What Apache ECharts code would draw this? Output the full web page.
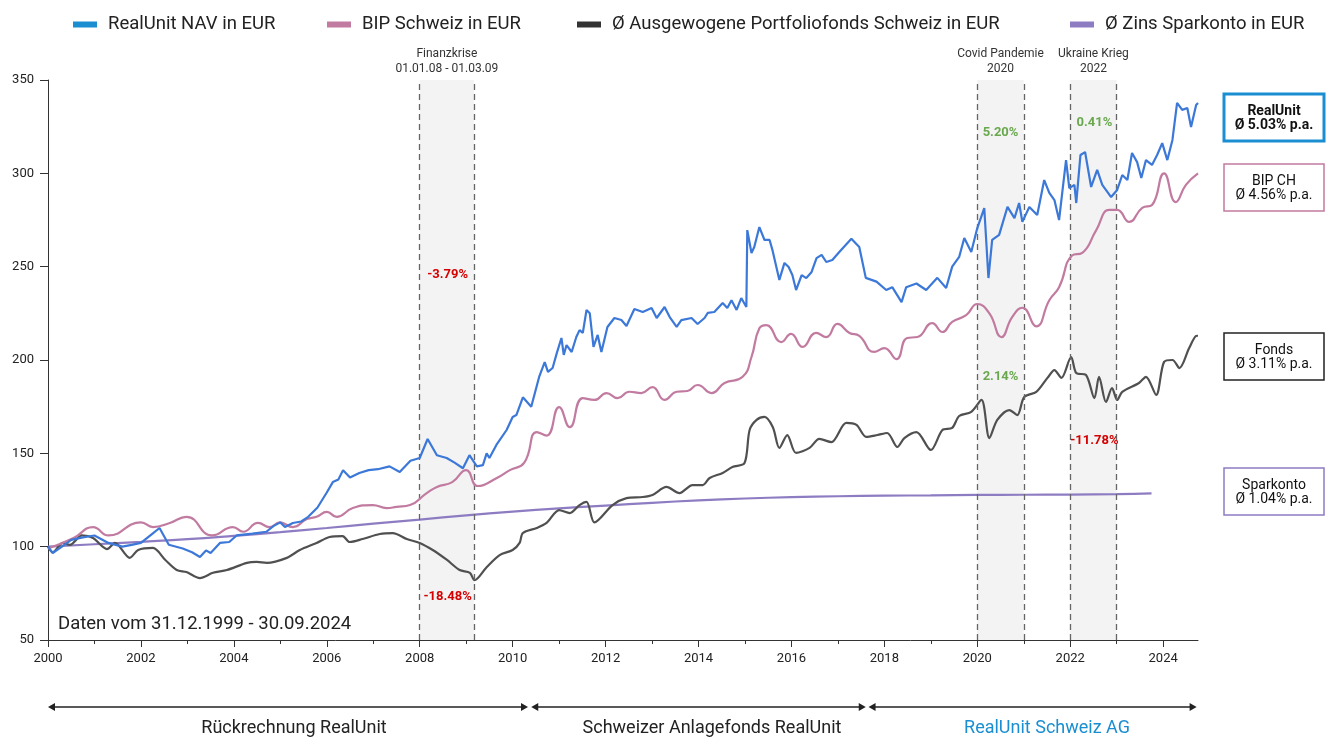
<!DOCTYPE html>
<html>
<head>
<meta charset="utf-8">
<script src="https://cdn.jsdelivr.net/npm/echarts@6/dist/echarts.min.js"></script>
<style>
  html, body { margin: 0; padding: 0; background: #fff; }
  #chart { width: 1333px; height: 738px; }
</style>
</head>
<body>
<div id="chart"></div>
<script>
// RealUnit NAV (index, 31.12.1999 = 100)
const ruYears = [2000.0,2000.1,2000.3,2000.5,2000.75,2001.0,2001.15,2001.3,2001.6,2001.8,2002.0,2002.25,2002.4,2002.6,2002.9,2003.1,2003.27,2003.4,2003.5,2003.7,2003.9,2004.06,2004.4,2004.7,2004.85,2005.0,2005.1,2005.27,2005.45,2005.6,2005.8,2006.0,2006.13,2006.25,2006.35,2006.5,2006.7,2006.9,2007.1,2007.35,2007.57,2007.8,2008.0,2008.17,2008.37,2008.58,2008.75,2008.93,2009.07,2009.23,2009.36,2009.44,2009.5,2009.65,2009.87,2010.0,2010.08,2010.22,2010.4,
  2010.57,2010.69,2010.76,2010.86,2010.95,2011.05,2011.1,2011.16,2011.27,2011.37,2011.44,2011.51,2011.59,2011.66,2011.7,2011.74,2011.83,2011.91,2012.04,2012.19,2012.34,2012.45,2012.62,2012.8,2012.99,2013.1,2013.27,2013.38,2013.53,2013.63,2013.85,2013.98,2014.13,2014.2,2014.34,2014.52,2014.62,2014.71,2014.82,2014.92,2015.03,2015.05,2015.14,2015.2,2015.31,2015.42,2015.53,2015.59,2015.74,2015.85,2015.94,2016.02,2016.1,2016.22,2016.32,2016.43,2016.54,2016.65,2016.75,2016.88,2017.03,
  2017.29,2017.46,2017.6,2017.83,2018.04,2018.17,2018.37,2018.47,2018.69,2018.9,2019.14,2019.33,2019.46,
  2019.61,2019.72,2019.87,2020.0,2020.15,2020.24,2020.32,2020.47,2020.65,2020.8,2020.9,2020.97,2021.12,2021.29,2021.44,2021.55,2021.66,2021.76,2021.91,2021.98,2022.09,2022.13,2022.22,2022.32,2022.45,2022.58,2022.69,2022.88,2023.01,2023.12,2023.23,2023.33,2023.44,2023.53,2023.63,2023.76,2023.87,2023.98,2024.09,2024.2,2024.3,2024.41,2024.52,2024.6,2024.71,2024.75];
const ruVals = [100,96.6,100,103.6,105,106,104,102,100,101,102,107,110,101,99,97,94.5,98,96.6,102,102.5,106,107,108,111,113,110.5,112.7,113.5,116,121,129,134.6,136,141,137,139.5,141,141.5,143,140,146,147.5,157.7,149,147.5,145,142,149,143,143.7,150,147.5,154.5,162.5,169.5,170.5,180,175,
  190.9,198.9,193.6,195.7,203.7,211.8,202.7,208,204.3,212.3,216,214.5,226.8,225,216,207,213.4,204.3,217.7,222.5,221.4,218.2,227.3,225.7,227.8,222.5,228.4,223,217.7,221.4,222.5,219.3,222.5,225.2,225.7,230.5,227.8,232,226.8,233.2,228.4,269.6,257.3,260.5,271.2,264.3,264.3,259,242.9,252,249.8,245.5,237.5,245.5,243.9,247,254.6,256.3,252.5,253.6,257.9,
  265,260.5,244,242,237.5,239,231,239,241,237.5,244,238.6,250,
  255.2,265.4,257.9,270.7,281.4,243.9,264.3,267,282,276,284.1,274,282,277.7,296.4,289.5,285.7,275,307.1,292.1,293.8,284.1,309.8,311.4,292.7,301.8,293.8,287.3,291.1,299.1,296.4,310.9,306,297.5,307.1,304.5,309.8,316.2,307.1,317.9,337.7,334,335,324.8,336.6,337.7];

// BIP Schweiz in EUR
const bipYears = [2000.0,2000.55,2000.97,2001.3,2002.0,2002.26,2002.62,2002.98,2003.53,2003.98,2004.2,2004.52,2004.77,2004.99,2005.27,2005.57,2005.78,2006.0,2006.21,2006.56,2006.99,2007.29,2007.5,2007.79,2008.15,2008.37,2008.7,2009.0,2009.25,2009.66,2009.94,2010.25,2010.52,2010.73,2011.0,2011.23,2011.51,2011.76,2012.02,2012.26,2012.51,2012.77,2013.01,2013.27,2013.53,2013.76,2013.98,2014.28,2014.56,2014.95,2015.14,2015.31,2015.46,2015.78,2015.99,2016.24,2016.53,2016.75,2016.99,2017.25,2017.46,2017.78,2018.0,2018.26,2018.49,2018.71,2019.03,2019.25,2019.46,2019.76,2020.0,2020.26,2020.52,2020.75,2020.97,2021.27,2021.55,2021.76,2022.04,2022.26,2022.56,2022.84,2023.01,2023.27,2023.55,2023.76,2024.02,2024.27,2024.49,2024.75];
const bipVals = [99,104.6,110.5,106,113,110.5,112.7,116,106,110.5,108,112.7,110.5,113,110.5,114.8,116,118.6,116,120.7,122.3,120.7,121.3,122.3,128.7,132,134.6,141,132.5,136.8,141,145,161.4,159.5,174.8,164,179.6,178.6,182.3,179.6,183,182.3,185.5,178.6,183,183.4,186.6,182.3,187.7,191,201.6,217,218.7,209.6,214,207,214.5,212.3,219.3,214.5,212.9,204.3,206.4,200.5,211.8,212.3,219.8,215,220.4,224,230,225,212.3,223,228,218,232,239,256,257.4,269.6,280.4,280.4,274,281.5,283,300,284.6,293.8,300];

// Ø Ausgewogene Portfoliofonds Schweiz
const fdYears = [2000.0,2000.1,2000.32,2000.47,2000.73,2000.97,2001.27,2001.44,2001.76,2001.94,2002.26,2002.52,2002.77,2002.98,2003.27,2003.55,2003.85,2004.28,2004.49,2004.71,2005.14,2005.42,2005.78,2006.06,2006.34,2006.49,2006.77,2007.14,2007.42,2007.72,2008.0,2008.28,2008.58,2008.86,2009.08,2009.18,2009.44,2009.72,2010.0,2010.15,2010.22,2010.52,2010.73,2011.0,2011.23,2011.44,2011.59,2011.76,2012.15,2012.45,2012.8,2013.01,2013.31,2013.59,2013.87,2014.09,2014.24,2014.52,2014.73,2014.99,2015.1,2015.25,2015.42,2015.6,2015.74,2015.91,2016.1,2016.39,2016.6,2016.86,2017.18,2017.4,2017.61,2017.85,2018.06,2018.28,2018.43,2018.69,2019.0,2019.25,2019.46,2019.61,2019.87,2020.09,2020.26,2020.43,2020.69,2020.86,2021.01,2021.27,2021.51,2021.66,2021.81,2022.02,2022.13,2022.34,2022.52,2022.62,2022.77,2022.9,2023.01,2023.12,2023.48,2023.63,2023.85,2024.02,2024.2,2024.35,2024.56,2024.71,2024.75];
const fdVals = [100,97,102,101,106,104.6,98.7,102,94,98.2,99.3,93,87.5,86.4,83.2,86,87.5,91.3,91.8,91.3,94,98.2,102,105.2,105.7,102.5,104.1,106.8,107.3,104.1,102,98.2,93,87.5,86,82,89,95.5,98.2,102,107.3,110,112.7,119.6,118,122.3,124,113,122.3,126,126.6,127.7,132,128.7,133,133,136.8,139.5,142.7,144.8,162.5,167.9,169.5,164,152.9,159.8,150.2,152.9,157.7,156,166.3,165.2,158.8,159.8,160.9,153.4,158.2,161.4,151.8,162.5,163.6,170,172.2,178.6,158.2,167.9,173.2,170.5,180.2,182.9,190.4,194.6,190.4,201.6,193,192,179.6,191,177.5,185,178.6,182.9,187.7,191,181.3,199,200,195.7,206.4,212.9,213];

// Ø Zins Sparkonto
const spYears = [2000,2001,2002,2003,2004,2005,2006,2007,2008,2009,2010,2011,2012,2013,2014,2015,2016,2017,2018,2019,2020,2021,2022,2023,2023.75];
const spVals = [100,101.3,102.6,104,105.8,107.8,110,112.3,114.5,116.8,118.8,120.5,122,123.5,124.8,125.8,126.5,127,127.3,127.5,127.7,127.8,127.9,128.1,128.5];

// crisis periods
const crisisStart = [2008, 2020, 2022];
const crisisEnd = [2009.17, 2021, 2023];
const crisisText = ['Finanzkrise\n01.01.08 - 01.03.09', 'Covid Pandemie\n2020', 'Ukraine Krieg\n2022'];

// percentage notes: year, value, text
const noteYears = [2008.6, 2008.6, 2020.5, 2022.52, 2020.5, 2022.52];
const noteVals = [245.5, 73, 322, 327, 191, 157];
const noteTexts = ['-3.79%', '-18.48%', '5.20%', '0.41%', '2.14%', '-11.78%'];

const majorYears = [2000,2002,2004,2006,2008,2010,2012,2014,2016,2018,2020,2022,2024];
const minorYears = [2001,2003,2005,2007,2009,2011,2013,2015,2017,2019,2021,2023];

const names = ['RealUnit NAV in EUR', 'BIP Schweiz in EUR', 'Ø Ausgewogene Portfoliofonds Schweiz in EUR', 'Ø Zins Sparkonto in EUR'];

const pairs = (xs, ys) => xs.map((x, i) => [x, ys[i]]);
const FONT = 'Roboto, "Noto Sans", sans-serif';

const chart = echarts.init(document.getElementById('chart'));

const legendPos = [68, 322, 572, 1065];
const legendColors = ['#1a8ed1', '#c27ba0', '#333333', '#8e7cc3'];

let option = {
  backgroundColor: '#fff',
  animation: false,
  textStyle: { fontFamily: FONT },
  grid: { left: 48, right: 135, top: 80, bottom: 98 },
  legend: names.map((n, i) => ({
    data: [{ name: n, itemStyle: { color: legendColors[i] } }],
    left: legendPos[i], top: 10,
    icon: 'rect', itemWidth: 24, itemHeight: 6,
    textStyle: { fontSize: 18.5, color: '#222', padding: [0, 0, 0, 6], fontFamily: FONT },
    selectedMode: false
  })),
  xAxis: [{
    type: 'value', min: 2000, max: 2024.75,
    axisLine: { lineStyle: { color: '#333', width: 1 } },
    axisTick: { customValues: majorYears, length: 7, lineStyle: { color: '#333' } },
    axisLabel: { customValues: majorYears, fontSize: 13, color: '#222', margin: 12, formatter: v => String(v) },
    splitLine: { show: false }
  }, {
    type: 'value', min: 2000, max: 2024.75, position: 'bottom',
    axisLine: { show: false },
    axisTick: { customValues: minorYears, length: 4, lineStyle: { color: '#333' } },
    axisLabel: { show: false },
    splitLine: { show: false }
  }],
  yAxis: {
    type: 'value', min: 50, max: 350, interval: 50,
    axisLine: { show: true, lineStyle: { color: '#333' } },
    axisTick: { show: true, length: 8, lineStyle: { color: '#333' } },
    axisLabel: { fontSize: 13, color: '#222', margin: 14 },
    splitLine: { show: false }
  },
  series: [
    {
      name: names[3], type: 'line', data: pairs(spYears, spVals),
      showSymbol: false, smooth: 0.5, z: 3,
      lineStyle: { color: '#8e7cc3', width: 2.2 }, itemStyle: { color: '#8e7cc3' },
      markArea: {
        silent: true,
        itemStyle: { color: '#f3f3f3' },
        label: { show: true, position: 'top', distance: 4, color: '#333', fontSize: 12, lineHeight: 15, fontFamily: FONT },
        data: crisisStart.map((s, i) => [
          { name: crisisText[i], coord: [s, 350] },
          { coord: [crisisEnd[i], 50] }
        ])
      },
      markLine: {
        silent: true, symbol: 'none',
        lineStyle: { color: '#666', type: [6, 4], width: 1.3 },
        label: { show: false },
        data: crisisStart.concat(crisisEnd).map(x => ({ xAxis: x }))
      },
      markPoint: {
        silent: true, symbol: 'circle', symbolSize: 0,
        label: { show: true, position: 'inside', formatter: '{b}', fontSize: 13, fontWeight: 'bold', fontFamily: FONT },
        data: noteTexts.map((t, i) => ({
          name: t, coord: [noteYears[i], noteVals[i]],
          label: { color: t.charAt(0) === '-' ? '#d50000' : '#6aa84f' }
        }))
      }
    },
    {
      name: names[2], type: 'line', data: pairs(fdYears, fdVals),
      showSymbol: false, smooth: 0.3, z: 4,
      lineStyle: { color: '#505050', width: 2.2 }, itemStyle: { color: '#333' }
    },
    {
      name: names[1], type: 'line', data: pairs(bipYears, bipVals),
      showSymbol: false, smooth: 0.5, z: 5,
      lineStyle: { color: '#c27ba0', width: 2.2 }, itemStyle: { color: '#c27ba0' }
    },
    {
      name: names[0], type: 'line', data: pairs(ruYears, ruVals),
      showSymbol: false, z: 6,
      lineStyle: { color: '#3c78d8', width: 2.2 }, itemStyle: { color: '#3c78d8' }
    }
  ]
};
chart.setOption(option);

// annotations outside the plot
const px = v => chart.convertToPixel({ xAxisIndex: 0 }, v);
const arrowStart = [2000, 2010.4, 2017.66];
const arrowEnd = [2010.33, 2017.6, 2024.72];
const spanLabels = ['Rückrechnung RealUnit', 'Schweizer Anlagefonds RealUnit', 'RealUnit Schweiz AG'];
const spanLabelX = [294, 712, 1047];
const spanColors = ['#222', '#222', '#1a8ed1'];
const ay = 707;

let g = [];
arrowStart.forEach((s, i) => {
  const x1 = px(s), x2 = px(arrowEnd[i]);
  g.push({ type: 'line', shape: { x1: x1 + 4, y1: ay, x2: x2 - 4, y2: ay }, style: { stroke: '#222', lineWidth: 1.5 } });
  g.push({ type: 'polygon', shape: { points: [[x1, ay], [x1 + 7, ay - 4], [x1 + 7, ay + 4]] }, style: { fill: '#222' } });
  g.push({ type: 'polygon', shape: { points: [[x2, ay], [x2 - 7, ay - 4], [x2 - 7, ay + 4]] }, style: { fill: '#222' } });
  g.push({ type: 'text', x: spanLabelX[i], y: 728, style: { text: spanLabels[i], fill: spanColors[i], font: '18px ' + FONT, align: 'center', verticalAlign: 'middle' } });
});

g.push({ type: 'text', x: 58, y: 624, style: { text: 'Daten vom 31.12.1999 - 30.09.2024', fill: '#222', font: '18.5px ' + FONT, verticalAlign: 'middle' } });

const boxTop = [94, 164, 333, 468];
const boxText = ['RealUnit\nØ 5.03% p.a.', 'BIP CH\nØ 4.56% p.a.', 'Fonds\nØ 3.11% p.a.', 'Sparkonto\nØ 1.04% p.a.'];
const boxColor = ['#1a8ed1', '#c27ba0', '#222', '#8e7cc3'];
boxTop.forEach((t, i) => {
  const first = i === 0;
  g.push({ type: 'rect', shape: { x: 1224, y: t, width: 100, height: 47 }, style: { fill: '#fff', stroke: boxColor[i], lineWidth: first ? 3 : 1.5 } });
  g.push({ type: 'text', x: 1274, y: t + 24, style: { text: boxText[i], fill: '#111', font: (first ? 'bold ' : '') + '14px ' + FONT, lineHeight: 14, align: 'center', verticalAlign: 'middle' } });
});

chart.setOption({ graphic: g });
</script>
</body>
</html>
